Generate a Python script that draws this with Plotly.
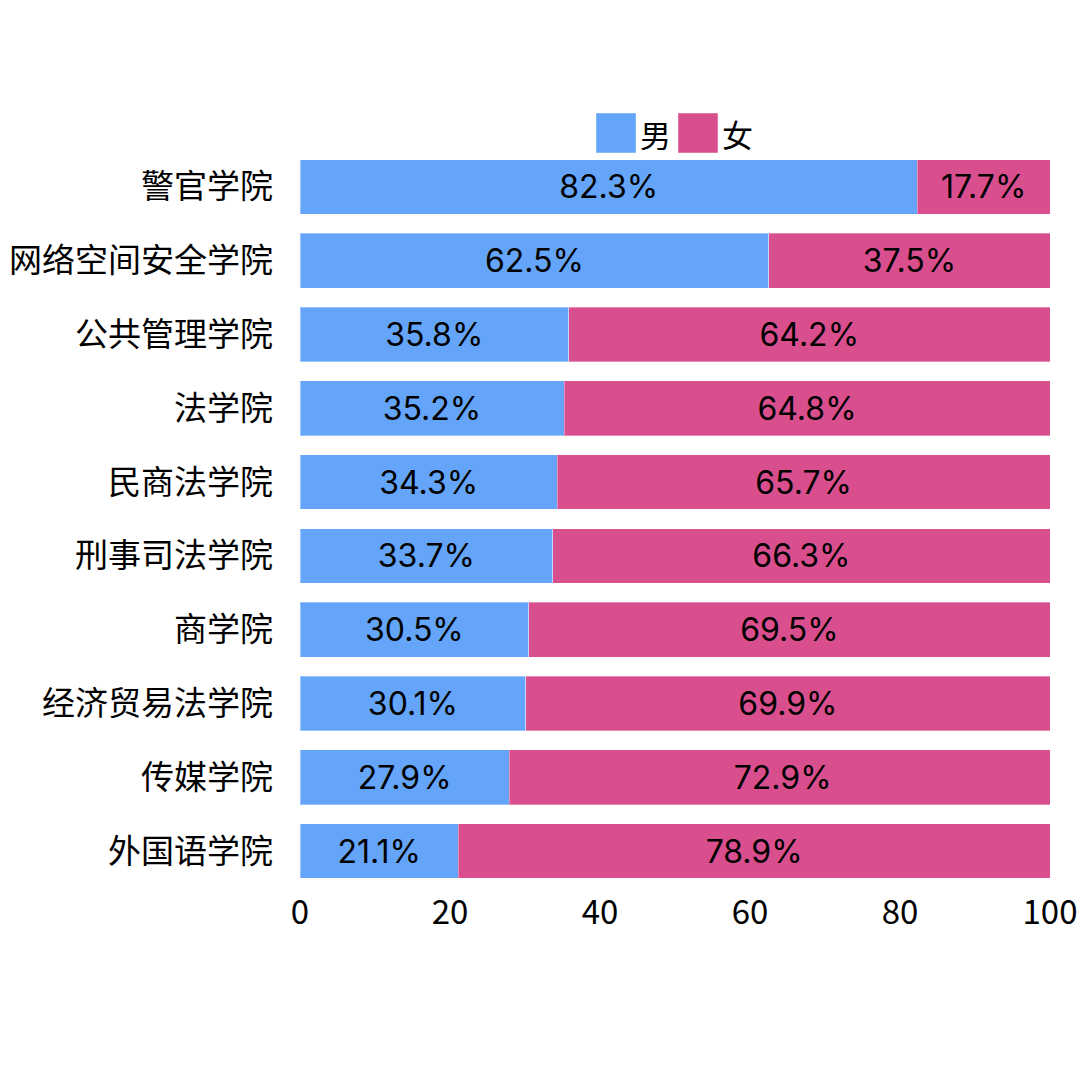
import plotly.graph_objects as go

categories = ["警官学院", "网络空间安全学院", "公共管理学院", "法学院", "民商法学院",
              "刑事司法学院", "商学院", "经济贸易法学院", "传媒学院", "外国语学院"]
male = [82.3, 62.5, 35.8, 35.2, 34.3, 33.7, 30.5, 30.1, 27.9, 21.1]
female = [17.7, 37.5, 64.2, 64.8, 65.7, 66.3, 69.5, 69.9, 72.9, 78.9]
series_names = ["男", "女"]
colors = ["#64A5F9", "#D94F8E"]
x_ticks = [0, 20, 40, 60, 80, 100]

CJK = "Noto Sans CJK SC"
NUM = "Inter, Noto Sans CJK SC"

fig = go.Figure()
for name, vals, col in zip(series_names, [male, female], colors):
    fig.add_trace(go.Bar(
        y=categories, x=vals, name=name, orientation="h",
        marker=dict(color=col, line=dict(color="rgba(255,255,255,0.35)", width=1)),
        text=[f"{v}%" for v in vals], textposition="inside", insidetextanchor="middle",
        textfont=dict(family=NUM, size=32, color="black"),
        constraintext="none", cliponaxis=True, showlegend=False,
    ))

# legend drawn as shapes + text (large square keys like the reference)
legend_x = [(0.3947, 0.448), (0.504, 0.5573)]
for (x0, x1), col, name in zip(legend_x, colors, series_names):
    fig.add_shape(type="rect", xref="paper", yref="paper", x0=x0, x1=x1, y0=0.996, y1=1.050,
                  fillcolor=col, line=dict(color="rgba(255,255,255,0.4)", width=1))
    fig.add_annotation(xref="paper", yref="paper", x=x1 + 0.003, y=1.023, xanchor="left",
                       yanchor="middle", text=name, showarrow=False,
                       font=dict(family=CJK, size=31, color="black"))

fig.update_layout(
    barmode="stack", bargap=0.26,
    width=1080, height=1080,
    margin=dict(l=300, r=30, t=150, b=192, autoexpand=False),
    plot_bgcolor="white", paper_bgcolor="white",
    font=dict(family=CJK, size=28, color="black"),
    showlegend=False,
)
fig.update_xaxes(range=[0, 100], tickvals=x_ticks, showgrid=False, automargin=False,
                 zeroline=False, showline=False, tickfont=dict(size=33, family=CJK),
                 ticks="", ticklabelstandoff=2)
fig.update_yaxes(autorange="reversed", showgrid=False, zeroline=False, showline=False,
                 automargin=False,
                 ticks="", tickfont=dict(size=33, family=CJK), ticklabelstandoff=26)

fig.write_html("out.html", config={"displayModeBar": False},
               post_script="document.body.style.margin='0';")
